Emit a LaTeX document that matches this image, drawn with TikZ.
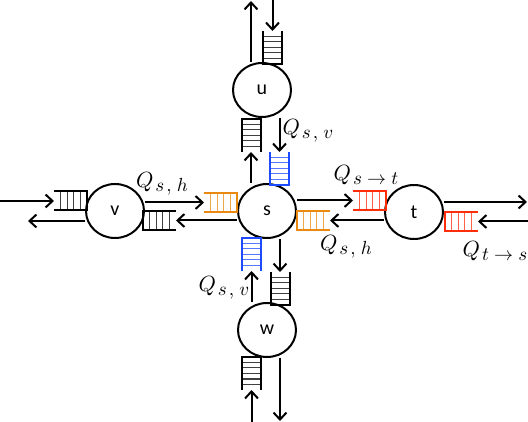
\documentclass[tikz,border=0pt]{standalone}
\usepackage{graphicx}
\usepackage{fontspec}
\newfontfamily\nodefont{Carlito}
\usetikzlibrary{arrows.meta,shapes.geometric}
\definecolor{qorange}{RGB}{234,137,16}
\definecolor{qblue}{RGB}{30,75,255}
\definecolor{qred}{RGB}{255,45,10}
\newcommand\qlab[1]{\scalebox{2.2}{$Q$}\hspace{2pt}\raisebox{-4pt}{\scalebox{1.9}{$#1$}}}
\tikzset{
  router/.style={ellipse,draw=black,line width=2pt,minimum width=58pt,minimum height=54pt,inner sep=0pt,font=\nodefont\fontsize{20}{24}\selectfont},
  flow/.style={-{Straight Barb[length=7pt,width=13pt]},line width=2pt},
  qlabel/.style={inner sep=0pt},
  pics/buffer/.style={code={
    \draw[line width=2pt] (33,-9.5) -- (0,-9.5) -- (0,9.5) -- (33,9.5);
    \foreach \k in {1,...,#1}
      \draw[line width=1pt,opacity=0.75] ({33*\k/(#1+1)},-9.5) -- ({33*\k/(#1+1)},9.5);
    \coordinate (-open) at (33,0);
  }}
}
\begin{document}
\begin{tikzpicture}[x=1pt,y=-1pt]
\useasboundingbox (0,0) rectangle (528,422);
\node[router] (u) at (262,90) {u};
\node[router] (s) at (267,211) {s};
\node[router] (w) at (267,330) {w};
\node[router] (v) at (115,211) {v};
\node[router] (t) at (414,212) {t};
% queues
\pic[rotate=90] (qu) at (272.5,64) {buffer=5};
\pic[rotate=-90] (qus) at (251,119) {buffer=5};
\pic[qblue,rotate=90] (qsu) at (279.5,185) {buffer=5};
\pic[qblue,rotate=-90] (qsw) at (251.5,238) {buffer=5};
\pic[rotate=90] (qws) at (280,305) {buffer=5};
\pic[rotate=-90] (qw) at (251.5,357) {buffer=5};
\pic[rotate=180] (qv) at (87,201) {buffer=4};
\pic[qorange,rotate=180] (qvs) at (237,202.5) {buffer=4};
\pic (qsv) at (143,220.5) {buffer=4};
\pic[qred,rotate=180] (qst) at (386,200.5) {buffer=4};
\pic[qorange] (qts) at (297,220.5) {buffer=4};
\pic[qred] (qt) at (445,221.5) {buffer=4};
% free ends
\coordinate (uN) at (251,1);
\coordinate (uIn) at (272.5,0);
\coordinate (wS) at (280,421);
\coordinate (wIn) at (251.5,422);
\coordinate (vIn) at (0,201);
\coordinate (vW) at (28,221);
\coordinate (tE) at (527,202);
\coordinate (tIn) at (528,221.5);
% links
\draw[flow] (u.north -| uN) -- (uN);
\draw[flow] (uIn) -- (qu-open);
\draw[flow] (s.north -| qus-open) -- (qus-open);
\draw[flow] (u.south -| qsu-open) -- (qsu-open);
\draw[flow] (s.south -| qws-open) -- (qws-open);
\draw[flow] (w.north -| qsw-open) -- (qsw-open);
\draw[flow] (w.south -| wS) -- (wS);
\draw[flow] (wIn) -- (qw-open);
\draw[flow] (vIn) -- (qv-open);
\draw[flow] (v.west |- vW) -- (vW);
\draw[flow] (v.east |- qvs-open) -- (qvs-open);
\draw[flow] (s.west |- qsv-open) -- (qsv-open);
\draw[flow] (s.east |- qst-open) -- (qst-open);
\draw[flow] (t.west |- qts-open) -- (qts-open);
\draw[flow] (t.east |- tE) -- (tE);
\draw[flow] (tIn) -- (qt-open);
% labels
\node[qlabel] (lsu) at (308,131) {\qlab{s\mkern2mu,\mkern2mu v}};
\node[qlabel] (lvs) at (162,184) {\qlab{s\mkern2mu,\mkern2mu h}};
\node[qlabel] (lst) at (366,175) {\qlab{s\to t}};
\node[qlabel] (lts) at (346,247) {\qlab{s\mkern2mu,\mkern2mu h}};
\node[qlabel] (lsw) at (224,288) {\qlab{s\mkern2mu,\mkern2mu v}};
\node[qlabel] (lt) at (495,251) {\qlab{t\to s}};
\end{tikzpicture}
\end{document}
